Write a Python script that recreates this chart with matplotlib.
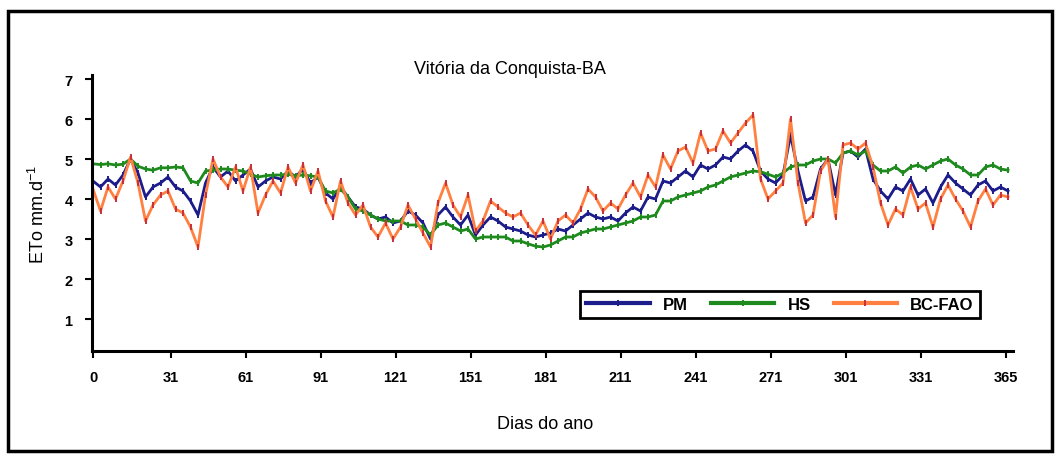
import numpy as np
import matplotlib
matplotlib.use("Agg")
import matplotlib.pyplot as plt
from matplotlib.patches import Rectangle

# dias (passo de 3 dias)
dias = np.arange(0, 367, 3)

# ETo (mm/dia)
pm = [4.45, 4.30, 4.50, 4.35, 4.60, 5.00, 4.65, 4.05, 4.30, 4.40,
      4.55, 4.30, 4.20, 3.95, 3.60, 4.40, 4.80, 4.55, 4.70, 4.45,
      4.60, 4.75, 4.30, 4.45, 4.55, 4.50, 4.70, 4.55, 4.75, 4.40,
      4.55, 4.15, 4.00, 4.30, 4.05, 3.80, 3.75, 3.60, 3.50, 3.55,
      3.40, 3.45, 3.70, 3.60, 3.40, 3.00, 3.60, 3.80, 3.55, 3.35,
      3.60, 3.10, 3.35, 3.55, 3.45, 3.30, 3.25, 3.20, 3.10, 3.05,
      3.10, 3.15, 3.25, 3.20, 3.35, 3.50, 3.65, 3.55, 3.50, 3.55,
      3.45, 3.65, 3.80, 3.70, 4.05, 4.00, 4.45, 4.40, 4.55, 4.70,
      4.55, 4.85, 4.75, 4.85, 5.05, 5.00, 5.20, 5.35, 5.20, 4.70,
      4.50, 4.40, 4.60, 5.60, 4.70, 3.95, 4.05, 4.75, 5.00, 4.10,
      5.15, 5.20, 5.05, 5.25, 4.50, 4.20, 4.00, 4.30, 4.20, 4.50,
      4.10, 4.25, 3.90, 4.30, 4.60, 4.40, 4.25, 4.10, 4.35, 4.45,
      4.20, 4.30, 4.20]

hs = [4.88, 4.86, 4.88, 4.85, 4.87, 5.00, 4.82, 4.75, 4.72, 4.78,
      4.78, 4.80, 4.78, 4.45, 4.40, 4.70, 4.72, 4.75, 4.75, 4.72,
      4.70, 4.62, 4.55, 4.58, 4.60, 4.60, 4.62, 4.58, 4.60, 4.58,
      4.55, 4.20, 4.15, 4.25, 4.05, 3.75, 3.70, 3.60, 3.50, 3.45,
      3.45, 3.45, 3.35, 3.35, 3.30, 3.10, 3.35, 3.40, 3.30, 3.20,
      3.25, 3.00, 3.05, 3.05, 3.05, 3.05, 2.95, 2.95, 2.88, 2.82,
      2.80, 2.85, 2.95, 3.05, 3.05, 3.15, 3.20, 3.25, 3.25, 3.30,
      3.35, 3.40, 3.45, 3.55, 3.55, 3.60, 3.95, 3.95, 4.05, 4.10,
      4.15, 4.20, 4.30, 4.35, 4.45, 4.55, 4.60, 4.65, 4.70, 4.68,
      4.62, 4.55, 4.65, 4.80, 4.85, 4.85, 4.95, 5.00, 5.00, 4.90,
      5.15, 5.20, 5.10, 5.20, 4.85, 4.70, 4.70, 4.80, 4.65, 4.80,
      4.85, 4.75, 4.85, 4.95, 5.00, 4.85, 4.75, 4.60, 4.60, 4.80,
      4.85, 4.75, 4.72]

bc_fao = [4.25, 3.70, 4.30, 4.00, 4.45, 5.05, 4.40, 3.45, 3.85, 4.10,
          4.20, 3.75, 3.65, 3.30, 2.80, 4.10, 5.00, 4.55, 4.30, 4.80,
          4.20, 4.80, 3.65, 4.10, 4.45, 4.15, 4.80, 4.40, 4.85, 4.20,
          4.70, 3.95, 3.55, 4.45, 3.90, 3.60, 3.85, 3.30, 3.05, 3.40,
          3.00, 3.30, 3.85, 3.50, 3.15, 2.80, 3.90, 4.40, 3.85, 3.55,
          4.10, 3.20, 3.45, 3.95, 3.80, 3.65, 3.55, 3.65, 3.35, 3.10,
          3.45, 3.00, 3.45, 3.60, 3.40, 3.75, 4.25, 4.05, 3.70, 3.90,
          3.75, 4.10, 4.40, 4.05, 4.60, 4.30, 5.10, 4.75, 5.20, 5.30,
          4.90, 5.65, 5.20, 5.25, 5.70, 5.40, 5.65, 5.90, 6.10, 4.50,
          4.00, 4.20, 4.40, 6.00, 4.40, 3.40, 3.60, 4.70, 5.00, 3.55,
          5.35, 5.40, 5.25, 5.40, 4.80, 3.90, 3.35, 3.75, 3.60, 4.30,
          3.75, 3.90, 3.30, 4.00, 4.35, 4.00, 3.70, 3.30, 3.95, 4.25,
          3.85, 4.10, 4.05]

xticks = [0, 31, 61, 91, 121, 151, 181, 211, 241, 271, 301, 331, 365]
yticks = [1, 2, 3, 4, 5, 6, 7]

plt.rcParams['font.family'] = ['Liberation Sans', 'DejaVu Sans']

fig = plt.figure(figsize=(10.61, 4.60), dpi=100)
ax = fig.add_axes([92 / 1061, 108 / 460, 921 / 1061, 276 / 460])

ax.plot(dias, pm, color="#1c1c8a", lw=2, marker="|", ms=5, mew=1.4, label="PM")
ax.plot(dias, hs, color="#1e8a1e", lw=2, marker="|", ms=5, mew=1.4, label="HS")
ax.plot(dias, bc_fao, color="#ff8040", lw=2, marker="|", ms=5, mew=1.4,
        mec="#c8303a", label="BC-FAO")

ax.set_xlim(-0.4, 368)
ax.set_ylim(0.2, 7.1)
ax.set_xticks(xticks)
ax.set_yticks(yticks)
for s in ["top", "right"]:
    ax.spines[s].set_visible(False)
for s in ["left", "bottom"]:
    ax.spines[s].set_linewidth(2.2)
ax.tick_params(axis="both", direction="out", width=1.5, length=5, labelsize=10.5, pad=9)
for lab in ax.get_xticklabels() + ax.get_yticklabels():
    lab.set_fontweight("bold")

fig.text(510 / 1061, 1 - 70 / 460, "Vitória da Conquista-BA", ha="center", va="center", fontsize=13)
fig.text(545 / 1061, 1 - 425 / 460, "Dias do ano", ha="center", va="center", fontsize=13)
fig.text(38 / 1061, 1 - 215 / 460, "ETo mm.d$^{\\mathregular{-1}}$", ha="center", va="center",
         rotation=90, fontsize=13)

leg = ax.legend(loc="lower left", ncol=3, mode="expand",
                bbox_to_anchor=(572 / 1061, 133 / 460, 416 / 1061, 37 / 460),
                bbox_transform=fig.transFigure, fancybox=False, framealpha=1,
                edgecolor="black", handlelength=3.8, borderpad=0.35,
                prop={"weight": "bold", "size": 12})
leg.get_frame().set_linewidth(2)
for h in leg.get_lines():
    h.set_linewidth(3)

# moldura externa
fig.patches.append(Rectangle((8 / 1061, 8 / 460), 1044 / 1061, 440 / 460,
                             transform=fig.transFigure, fill=False,
                             edgecolor="black", linewidth=2.5))

fig.savefig("out.png", dpi=100)
